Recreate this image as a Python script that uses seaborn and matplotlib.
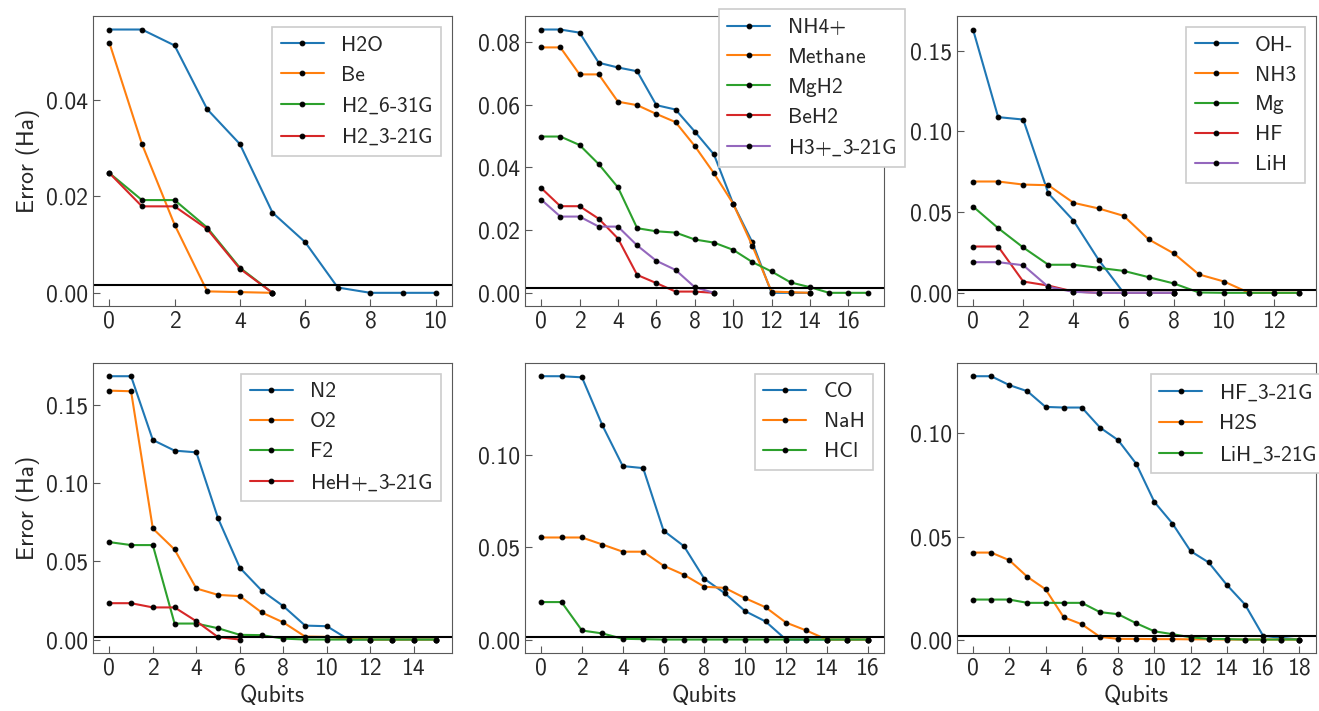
import matplotlib
matplotlib.use('Agg')
import matplotlib.pyplot as plt
import seaborn as sns
from matplotlib.ticker import MultipleLocator

# ---- data: error (Ha) vs number of qubits removed ----
h2o = [0.0545, 0.0545, 0.0512, 0.0380, 0.0308, 0.0166, 0.0105, 0.0011, 0.0, 0.0, 0.0]
be = [0.0518, 0.0308, 0.0141, 0.0003, 0.00015, 0.0]
h2_631g = [0.0248, 0.0192, 0.0192, 0.0135, 0.0052, 0.0]
h2_321g = [0.0248, 0.0179, 0.0179, 0.0132, 0.0050, 0.0]

nh4 = [0.0839, 0.0839, 0.0829, 0.0733, 0.0718, 0.0706, 0.0598, 0.0584, 0.0514,
       0.0441, 0.0284, 0.0161, 0.0, 0.0, 0.0]
methane = [0.0782, 0.0782, 0.0696, 0.0696, 0.0609, 0.0598, 0.0570, 0.0544, 0.0468,
           0.0381, 0.0284, 0.0150, 0.0004, 0.0002, 0.0]
mgh2 = [0.0498, 0.0498, 0.0471, 0.0410, 0.0336, 0.0206, 0.0196, 0.0192, 0.0170,
        0.0160, 0.0137, 0.0098, 0.0068, 0.0033, 0.0018, 0.0, 0.0, 0.0]
beh2 = [0.0334, 0.0276, 0.0276, 0.0236, 0.0173, 0.0057, 0.0031, 0.0004, 0.0004, 0.0]
h3_321g = [0.0297, 0.0243, 0.0243, 0.0211, 0.0211, 0.0151, 0.0102, 0.0073, 0.0018, 0.0]

oh = [0.1632, 0.1089, 0.1074, 0.0616, 0.0448, 0.0205, 0.0, 0.0, 0.0]
nh3 = [0.0690, 0.0690, 0.0671, 0.0667, 0.0558, 0.0523, 0.0477, 0.0331, 0.0244,
       0.0114, 0.0070, 0.0, 0.0, 0.0]
mg = [0.0535, 0.0401, 0.0281, 0.0174, 0.0174, 0.0155, 0.0136, 0.0097, 0.0058,
      0.0002, 0.0, 0.0, 0.0, 0.0]
hf = [0.0287, 0.0287, 0.0070, 0.0045, 0.0008, 0.0, 0.0, 0.0, 0.0]
lih = [0.0190, 0.0190, 0.0171, 0.0037, 0.0006, 0.0, 0.0, 0.0, 0.0]

n2 = [0.1681, 0.1681, 0.1274, 0.1206, 0.1195, 0.0773, 0.0458, 0.0313, 0.0213,
      0.0089, 0.0085, 0.0, 0.0, 0.0, 0.0, 0.0]
o2 = [0.1589, 0.1585, 0.0709, 0.0575, 0.0326, 0.0285, 0.0277, 0.0173, 0.0109,
      0.0019, 0.0017, 0.0005, 0.0, 0.0, 0.0, 0.0]
f2 = [0.0622, 0.0603, 0.0603, 0.0102, 0.0102, 0.0072, 0.0030, 0.0028, 0.0006,
      0.0, 0.0, 0.0, 0.0, 0.0, 0.0, 0.0]
heh_321g = [0.0232, 0.0232, 0.0205, 0.0205, 0.0117, 0.0015, 0.0]

co = [0.1427, 0.1427, 0.1421, 0.1161, 0.0940, 0.0929, 0.0590, 0.0506, 0.0329,
      0.0251, 0.0154, 0.0098, 0.0, 0.0, 0.0, 0.0, 0.0]
nah = [0.0553, 0.0553, 0.0553, 0.0515, 0.0476, 0.0476, 0.0400, 0.0351, 0.0286,
       0.0280, 0.0224, 0.0175, 0.0092, 0.0049, 0.0, 0.0, 0.0]
hcl = [0.0203, 0.0203, 0.0049, 0.0033, 0.0004, 0.0002, 0.0, 0.0, 0.0, 0.0,
       0.0, 0.0, 0.0, 0.0, 0.0, 0.0, 0.0]

hf_321g = [0.1278, 0.1278, 0.1235, 0.1205, 0.1129, 0.1126, 0.1126, 0.1029, 0.0968,
           0.0853, 0.0668, 0.0563, 0.0429, 0.0374, 0.0265, 0.0170, 0.0018, 0.0008, 0.0]
h2s = [0.0422, 0.0422, 0.0385, 0.0304, 0.0244, 0.0108, 0.0074, 0.0013, 0.0003,
       0.0003, 0.0002, 0.0002, 0.0001, 0.0001, 0.0, 0.0, 0.0, 0.0, 0.0]
lih_321g = [0.0194, 0.0194, 0.0194, 0.0178, 0.0178, 0.0178, 0.0178, 0.0133, 0.0123,
            0.0079, 0.0040, 0.0026, 0.0011, 0.0003, 0.0002, 0.0, 0.0, 0.0, 0.0]

chem_acc = 0.0016  # chemical accuracy line

panels = [
    ([h2o, be, h2_631g, h2_321g], ['H2O', 'Be', 'H2_6-31G', 'H2_3-21G'], 0.02),
    ([nh4, methane, mgh2, beh2, h3_321g], ['NH4+', 'Methane', 'MgH2', 'BeH2', 'H3+_3-21G'], 0.02),
    ([oh, nh3, mg, hf, lih], ['OH-', 'NH3', 'Mg', 'HF', 'LiH'], 0.05),
    ([n2, o2, f2, heh_321g], ['N2', 'O2', 'F2', 'HeH+_3-21G'], 0.05),
    ([co, nah, hcl], ['CO', 'NaH', 'HCl'], 0.05),
    ([hf_321g, h2s, lih_321g], ['HF_3-21G', 'H2S', 'LiH_3-21G'], 0.05),
]

FS = 17
LEG_FS = 15.5

sns.set_style('ticks')
plt.rcParams['font.family'] = ['cmss10', 'DejaVu Sans']
plt.rcParams['mathtext.fontset'] = 'cm'
plt.rcParams['axes.unicode_minus'] = False
plt.rcParams['font.size'] = FS
plt.rcParams['axes.edgecolor'] = '0.35'
plt.rcParams['xtick.direction'] = 'in'
plt.rcParams['ytick.direction'] = 'in'
plt.rcParams['xtick.color'] = '0.35'
plt.rcParams['ytick.color'] = '0.35'
plt.rcParams['xtick.labelcolor'] = '0.15'
plt.rcParams['ytick.labelcolor'] = '0.15'
plt.rcParams['xtick.major.size'] = 5
plt.rcParams['ytick.major.size'] = 5
palette = sns.color_palette('tab10')


def tex_label(s):
    # cmss10 has a dot accent in the underscore slot, so set the underscore in math mode
    return s.replace('_', r'$\_$')


fig, axes = plt.subplots(2, 3, figsize=(13.19, 7.11), dpi=100)
fig.subplots_adjust(left=0.0705, right=0.9975, top=0.977, bottom=0.082,
                    wspace=0.203, hspace=0.197)

for i, (ax, (series, labels, ystep)) in enumerate(zip(axes.flat, panels)):
    for j, (vals, lab) in enumerate(zip(series, labels)):
        sns.lineplot(x=list(range(len(vals))), y=vals, ax=ax, color=palette[j],
                     label=tex_label(lab), linewidth=1.5, marker='o', markersize=3.4,
                     markerfacecolor='k', markeredgecolor='k')
    ax.axhline(chem_acc, color='k', linewidth=1.5)
    ax.xaxis.set_major_locator(MultipleLocator(2))
    ax.yaxis.set_major_locator(MultipleLocator(ystep))
    ax.set_xlabel('Qubits' if i >= 3 else '')
    ax.set_ylabel('Error (Ha)' if i % 3 == 0 else '')
    leg_kw = dict(fancybox=False, edgecolor='0.8', framealpha=1, fontsize=LEG_FS)
    if i == 1:
        ax.legend(loc='upper right', bbox_to_anchor=(1.058, 1.024), borderaxespad=0, **leg_kw)
    elif i == 5:
        ax.legend(loc='upper left', bbox_to_anchor=(0.54, 0.962), borderaxespad=0, **leg_kw)
    else:
        ax.legend(loc='upper right', **leg_kw)
    ax.get_legend().get_frame().set_linewidth(1.2)

plt.savefig('out.png', dpi=100)
